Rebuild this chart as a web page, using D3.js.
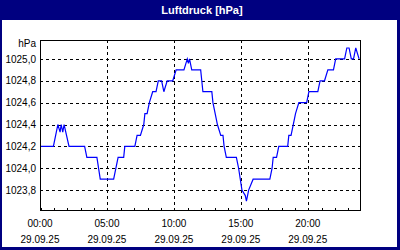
<!DOCTYPE html>
<html>
<head>
<meta charset="utf-8">
<script src="https://cdn.jsdelivr.net/npm/d3@7"></script>
<style>
  body { margin: 0; background: #fff; }
  svg { display: block; font-family: "Liberation Sans", Arial, sans-serif; }
</style>
</head>
<body>
<div class="chart"></div>
<script>
// readings (time of day, hPa)
const times = ["00:00","01:00","01:20","01:30","01:35","01:42","01:48","02:10","03:20","03:30",
  "04:15","04:30","05:30","05:50","06:15","06:20","07:05","07:15","07:30","07:45",
  "07:50","08:00","08:10","08:25","08:40","08:50","09:05","09:15","09:30","09:55",
  "10:10","10:45","11:00","11:05","11:10","11:20","12:00","12:05","12:10","12:50",
  "12:55","13:05","13:15","13:30","13:40","13:45","13:55","14:40","14:50","15:05",
  "15:20","15:25","15:35","15:55","17:10","17:20","17:25","17:40","17:50","18:30",
  "18:35","18:45","18:55","19:05","19:20","19:55","20:05","20:45","20:55","21:15",
  "21:30","21:55","22:05","22:45","22:55","23:05","23:15","23:25","23:35","23:50"];
const pressure = [1024.2,1024.2,1024.4,1024.33,1024.4,1024.33,1024.4,1024.2,1024.2,1024.1,
  1024.1,1023.9,1023.9,1024.1,1024.1,1024.2,1024.2,1024.3,1024.3,1024.4,
  1024.5,1024.5,1024.6,1024.7,1024.7,1024.8,1024.8,1024.7,1024.8,1024.8,
  1024.9,1024.9,1025.0,1024.96,1025.0,1024.9,1024.9,1024.8,1024.7,1024.7,
  1024.6,1024.5,1024.4,1024.3,1024.3,1024.2,1024.1,1024.1,1024.0,1023.8,
  1023.75,1023.7,1023.8,1023.9,1023.9,1024.0,1024.1,1024.1,1024.2,1024.2,
  1024.3,1024.3,1024.4,1024.5,1024.6,1024.6,1024.7,1024.7,1024.8,1024.8,
  1024.9,1024.9,1025.0,1025.0,1025.1,1025.1,1025.0,1025.0,1025.1,1025.0];
const yTicks = [1023.8, 1024.0, 1024.2, 1024.4, 1024.6, 1024.8, 1025.0];
const xTickHours = [0, 5, 10, 15, 20];
const dateLabel = "29.09.25";
const title = "Luftdruck [hPa]";
const unit = "hPa";

const data = times.map((t, i) => {
  const [hh, mm] = t.split(":").map(Number);
  return { h: hh + mm / 60, v: pressure[i] };
});

/* Dimensions */
const width = 400, height = 250;
const plot = { left: 40, right: 360, top: 40, bottom: 210 };

/* Scales */
const x = d3.scaleLinear().domain([0, 23.9]).range([plot.left, plot.right]);
const y = d3.scaleLinear().domain([1023.618, 1025.173]).range([plot.bottom, plot.top]);

const svg = d3.select(".chart").append("svg")
  .attr("width", width)
  .attr("height", height);

// navy frame + title bar
svg.append("rect").attr("width", width).attr("height", height).attr("fill", "#000080");
svg.append("rect").attr("x", 2).attr("y", 20).attr("width", 395).attr("height", 227).attr("fill", "#fff");
svg.append("text")
  .attr("x", 202).attr("y", 14)
  .attr("text-anchor", "middle")
  .attr("fill", "#fff")
  .style("font-size", "11px")
  .style("font-weight", "bold")
  .text(title);

// grid
const grid = svg.append("g")
  .attr("stroke", "#000")
  .attr("stroke-dasharray", "3,3")
  .attr("shape-rendering", "crispEdges");
grid.selectAll("line.h").data(yTicks).join("line")
  .attr("x1", plot.left).attr("x2", plot.right)
  .attr("y1", d => Math.round(y(d)) + 0.5).attr("y2", d => Math.round(y(d)) + 0.5);
grid.selectAll("line.v").data(xTickHours.slice(1)).join("line")
  .attr("y1", plot.top).attr("y2", plot.bottom)
  .attr("x1", d => Math.round(x(d)) + 0.5).attr("x2", d => Math.round(x(d)) + 0.5);

// line
const line = d3.line().x(d => x(d.h)).y(d => y(d.v));
svg.append("path")
  .datum(data)
  .attr("fill", "none")
  .attr("stroke", "#0000ff")
  .attr("stroke-width", 1.2)
  .attr("d", line);

// plot frame
svg.append("rect")
  .attr("x", plot.left + 0.5).attr("y", plot.top + 0.5)
  .attr("width", plot.right - plot.left).attr("height", plot.bottom - plot.top)
  .attr("fill", "none").attr("stroke", "#000")
  .attr("shape-rendering", "crispEdges");

/* Axes */
const xAxis = d3.axisBottom(x)
  .tickValues(d3.range(0, 24))
  .tickSize(-3)
  .tickFormat("");
svg.append("g")
  .attr("transform", `translate(0.5,${plot.bottom + 0.5})`)
  .call(xAxis)
  .call(g => g.select(".domain").remove())
  .call(g => g.selectAll("line").attr("shape-rendering", "crispEdges"));

const xl = svg.append("g")
  .style("font-size", "10px")
  .attr("text-anchor", "middle")
  .attr("fill", "#000");
xl.selectAll("text.t").data(xTickHours).join("text")
  .attr("x", d => x(d))
  .attr("y", 227)
  .text(d => d3.format("02d")(d) + ":00");
xl.selectAll("text.d").data(xTickHours).join("text")
  .attr("x", d => x(d))
  .attr("y", 243)
  .text(dateLabel);

const yAxis = d3.axisLeft(y)
  .tickValues(yTicks)
  .tickSize(0)
  .tickPadding(4)
  .tickFormat(d => d3.format(".1f")(d).replace(".", ","));
svg.append("g")
  .attr("transform", `translate(${plot.left},0)`)
  .call(yAxis)
  .call(g => g.select(".domain").remove())
  .call(g => g.selectAll("text").attr("fill", "#000").style("font-size", "10px")
    .style("font-family", "'Liberation Sans', Arial, sans-serif"));

svg.append("text")
  .attr("x", plot.left - 4).attr("y", 47)
  .attr("text-anchor", "end")
  .style("font-size", "10px")
  .text(unit);
</script>
</body>
</html>
